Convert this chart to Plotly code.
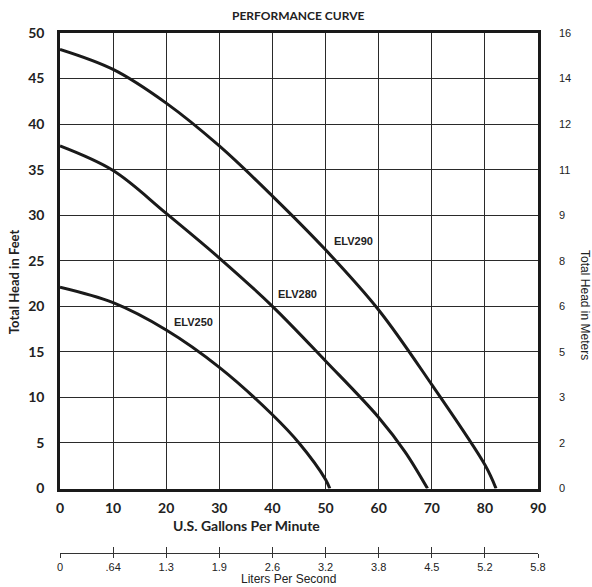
import plotly.graph_objects as go

# ---- data ----
gpm_290 = [0, 10, 20, 30, 40, 50, 60, 70, 80, 82.1]
ft_290 = [48.2, 46.0, 42.3, 37.6, 32.1, 26.2, 19.6, 11.4, 2.6, 0]

gpm_280 = [0, 10, 20, 30, 40, 50, 60, 65, 69.2]
ft_280 = [37.6, 34.9, 30.2, 25.3, 20.0, 14.0, 7.8, 4.0, 0]

gpm_250 = [0, 10, 20, 30, 40, 45, 50, 50.8]
ft_250 = [22.1, 20.4, 17.4, 13.3, 8.1, 5.0, 1.0, 0]

series_names = ["ELV290", "ELV280", "ELV250"]
label_x = [55.3, 44.7, 25.2]
label_y = [27.2, 21.4, 18.3]

gpm_ticks = [0, 10, 20, 30, 40, 50, 60, 70, 80, 90]
lps_ticktext = ["0", ".64", "1.3", "1.9", "2.6", "3.2", "3.8", "4.5", "5.2", "5.8"]
feet_ticks = [0, 5, 10, 15, 20, 25, 30, 35, 40, 45, 50]
meter_ticktext = ["0", "2", "3", "5", "6", "8", "9", "11", "12", "14", "16"]

HUM = "Lato"
ARI = "Liberation Sans"

fig = go.Figure()
for gx, fy, nm in [(gpm_290, ft_290, series_names[0]),
                   (gpm_280, ft_280, series_names[1]),
                   (gpm_250, ft_250, series_names[2])]:
    fig.add_trace(go.Scatter(x=gx, y=fy, mode="lines", name=nm,
                             line=dict(color="#1a1a1a", width=3, shape="spline", smoothing=1.0),
                             hoverinfo="skip", showlegend=False))

# dummy traces to ensure secondary axes exist
fig.add_trace(go.Scatter(x=[None], y=[None], xaxis="x2", yaxis="y", showlegend=False))
fig.add_trace(go.Scatter(x=[None], y=[None], xaxis="x3", yaxis="y", showlegend=False))
fig.add_trace(go.Scatter(x=[None], y=[None], xaxis="x", yaxis="y2", showlegend=False))

for nm, lx, ly in zip(series_names, label_x, label_y):
    fig.add_annotation(x=lx, y=ly, text="<b>" + nm + "</b>", showarrow=False,
                       xanchor="center", yanchor="middle",
                       font=dict(family=ARI, size=11, color="#222"))

ydom = [0.124, 1]
fig.update_layout(
    width=592, height=587,
    margin=dict(l=60, r=54, t=33, b=34),
    plot_bgcolor="white", paper_bgcolor="white",
    xaxis=dict(range=[0, 90], tickvals=gpm_ticks, anchor="y",
               showgrid=True, gridcolor="#2a2a2a", gridwidth=1,
               showline=True, linecolor="#1a1a1a", linewidth=2.5, mirror=True,
               ticks="", ticklabelstandoff=5, zeroline=False,
               tickfont=dict(family=HUM, size=14, color="#222", weight="bold")),
    xaxis2=dict(range=[0, 90], tickvals=gpm_ticks, ticktext=lps_ticktext,
                overlaying="x", anchor="free", position=0, side="bottom",
                showgrid=False, zeroline=False,
                showline=True, linecolor="#333", linewidth=1.2,
                ticks="outside", ticklen=4, tickcolor="#333", tickwidth=1.2,
                ticklabelstandoff=0,
                tickfont=dict(family=ARI, size=11, color="#222")),
    xaxis3=dict(range=[0, 90], tickvals=gpm_ticks, showticklabels=False,
                overlaying="x", anchor="free", position=0, side="bottom",
                showgrid=False, zeroline=False, showline=False,
                ticks="inside", ticklen=6, tickcolor="#333", tickwidth=1.2),
    yaxis=dict(range=[0, 50], tickvals=feet_ticks, domain=ydom,
               showgrid=True, gridcolor="#2a2a2a", gridwidth=1,
               showline=True, linecolor="#1a1a1a", linewidth=2.5, mirror=True,
               ticks="", ticklabelstandoff=10, zeroline=False,
               tickfont=dict(family=HUM, size=14, color="#222", weight="bold")),
    yaxis2=dict(range=[0, 50], tickvals=feet_ticks, ticktext=meter_ticktext,
                overlaying="y", side="right", showgrid=False, zeroline=False,
                showline=False, ticks="", ticklabelstandoff=20,
                tickfont=dict(family=ARI, size=11, color="#222")),
)

def ann(x, y, text, font, angle=0):
    fig.add_annotation(xref="paper", yref="paper", x=x, y=y, text=text,
                       showarrow=False, xanchor="center", yanchor="middle",
                       textangle=angle, font=font)

ann(0.497, 1.033, "<b>PERFORMANCE CURVE</b>", dict(family=HUM, size=12, color="#222"))
ann(0.391, 0.052, "<b>U.S. Gallons Per Minute</b>", dict(family=HUM, size=14, color="#222"))
ann(0.477, -0.050, "Liters Per Second", dict(family=ARI, size=12, color="#222"))
ann(-0.096, 0.521, "<b>Total Head in Feet</b>", dict(family=HUM, size=13, color="#222"), -90)
ann(1.098, 0.477, "Total Head in Meters", dict(family=ARI, size=12, color="#222"), 90)

fig.write_html("out.html", config={"displayModeBar": False},
               post_script="document.body.style.margin='0';document.body.style.overflow='hidden';")
